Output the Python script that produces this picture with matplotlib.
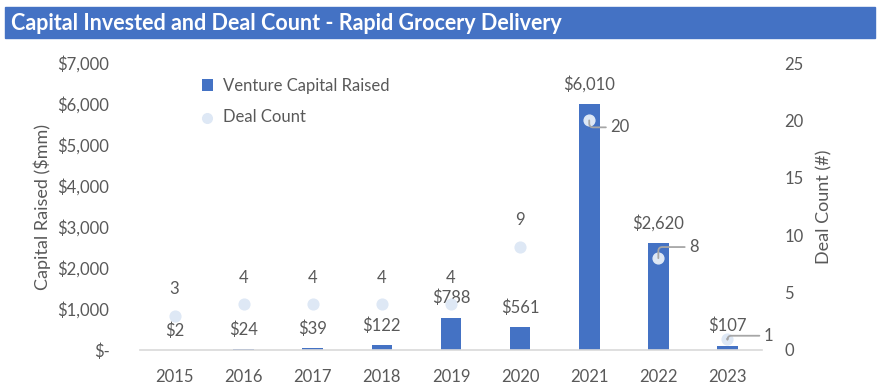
import matplotlib.pyplot as plt
from matplotlib.patches import Rectangle

years = ["2015", "2016", "2017", "2018", "2019", "2020", "2021", "2022", "2023"]
capital = [2, 24, 39, 122, 788, 561, 6010, 2620, 107]
deals = [3, 4, 4, 4, 4, 9, 20, 8, 1]

bar_color = "#4472C4"
dot_color = "#DEE8F5"
text_color = "#595959"

# callout offsets (points) for deal labels drawn beside the dot
callouts = {"2021": (15, -5), "2022": (22, 8), "2023": (26, 2)}

plt.rcParams['font.family'] = ['Lato', 'DejaVu Sans']

fig = plt.figure(figsize=(8.8, 3.9), dpi=100)
W, H = 880, 390

# title bar
fig.patches.append(Rectangle((5 / W, 1 - 38 / H), 870 / W, 31 / H,
                             transform=fig.transFigure, color=bar_color, zorder=0))
fig.text(11 / W, 1 - 23 / H, "Capital Invested and Deal Count - Rapid Grocery Delivery",
         color="white", fontsize=15.5, fontweight="bold", va="center", ha="left")

ax = fig.add_axes([140 / W, 1 - 350 / H, 622 / W, 287 / H])
ax2 = ax.twinx()

x = list(range(len(years)))
ax.bar(x, capital, width=0.3, color=bar_color, zorder=2, label="Venture Capital Raised")
ax2.scatter(x, deals, s=60, color=dot_color, zorder=3, label="Deal Count")

ax.set_xlim(-0.5, len(years) - 0.5)
ax.set_ylim(0, 7000)
ax2.set_ylim(0, 25)
ax.set_yticks(range(0, 7001, 1000))
ax.set_yticklabels(["$-"] + [f"${v:,}" for v in range(1000, 7001, 1000)])
ax2.set_yticks(range(0, 26, 5))
ax.set_xticks(x)
ax.set_xticklabels(years)

for a in (ax, ax2):
    for s in a.spines.values():
        s.set_visible(False)
    a.tick_params(length=0, labelsize=12, colors=text_color)
ax.spines["bottom"].set_visible(True)
ax.spines["bottom"].set_color("#D9D9D9")
ax.spines["bottom"].set_linewidth(1.2)
ax.tick_params(axis="x", pad=14)
ax.tick_params(axis="y", pad=22)
ax2.tick_params(axis="y", pad=16)

ax.set_ylabel("Capital Raised ($mm)", fontsize=13, color=text_color, labelpad=5)
ax2.set_ylabel("Deal Count (#)", fontsize=13, color=text_color, labelpad=9)

# capital labels
for i, v in enumerate(capital):
    ax.annotate(f"${v:,}", (i, v), xytext=(0, 14), textcoords="offset points",
                ha="center", va="center", fontsize=12, color=text_color, zorder=5)

# deal count labels
for i, d in enumerate(deals):
    if years[i] in callouts:
        ax2.annotate(str(d), (i, d), xytext=callouts[years[i]], textcoords="offset points",
                     ha="left", va="center", fontsize=12, color=text_color,
                     arrowprops=dict(arrowstyle="-", color="#A6A6A6", lw=1.3,
                                     connectionstyle="angle,angleA=0,angleB=90,rad=4",
                                     shrinkA=1, shrinkB=0), zorder=5)
    else:
        ax2.annotate(str(d), (i, d), xytext=(0, 19), textcoords="offset points",
                     ha="center", va="center", fontsize=12, color=text_color, zorder=5)

h1, l1 = ax.get_legend_handles_labels()
h2, l2 = ax2.get_legend_handles_labels()
ax.legend(h1 + h2, l1 + l2, loc="upper left", bbox_to_anchor=(0.075, 1.0), frameon=False,
          fontsize=12, labelcolor=text_color, handlelength=0.7, handleheight=0.7,
          labelspacing=0.9, handletextpad=0.6, markerscale=0.9)

fig.savefig("out.png", dpi=100)
